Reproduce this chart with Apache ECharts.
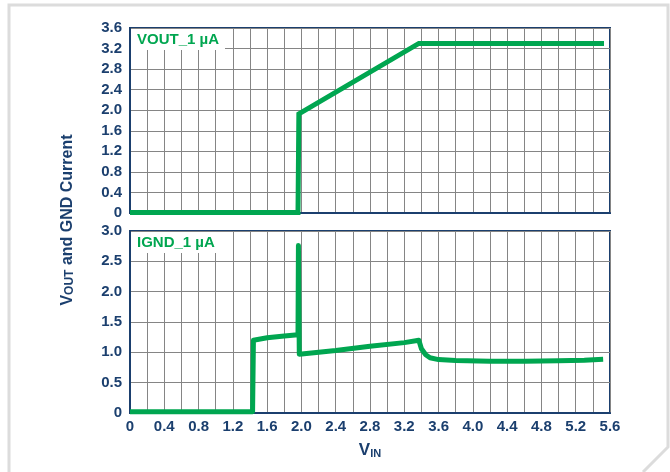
<!DOCTYPE html>
<html>
<head>
<meta charset="utf-8">
<script src="https://cdn.jsdelivr.net/npm/echarts@6/dist/echarts.min.js"></script>
<style>
  html, body { margin: 0; padding: 0; background: #fff; }
  #chart { width: 670px; height: 472px; }
</style>
</head>
<body>
<div id="chart"></div>
<script>
// VOUT (V) vs VIN
const voutVin = [0, 1.96, 1.97, 3.37, 5.53]
const voutVal = [0.01, 0.01, 1.93, 3.3, 3.3]

// IGND (µA) vs VIN
const ignVin = [0, 1.43, 1.44, 1.6, 1.8, 1.96, 1.965, 1.975, 2.4, 2.8, 3.2, 3.37, 3.4, 3.45, 3.5, 3.6, 3.8, 4.2, 4.6, 5.0, 5.3, 5.52]
const ignVal = [0.02, 0.02, 1.2, 1.24, 1.27, 1.29, 2.76, 0.97, 1.03, 1.1, 1.16, 1.2, 1.06, 0.96, 0.91, 0.88, 0.865, 0.855, 0.855, 0.86, 0.87, 0.885]

const xTicks = { min: 0, max: 5.6, interval: 0.4 }
const topTicks = { min: 0, max: 3.6, interval: 0.4 }
const botTicks = { min: 0, max: 3.0, interval: 0.5 }

const navy = '#1b3f6e'
const green = '#00a650'
const gridGrey = '#858585'
const font = 'Liberation Sans, Arial, sans-serif'

const fmt = (v) => (v === 0 ? '0' : v.toFixed(1))

const xAxisBase = (idx, showLabels) => ({
  type: 'value',
  gridIndex: idx,
  min: xTicks.min,
  max: xTicks.max,
  interval: xTicks.interval,
  axisLine: { show: true, onZero: false, lineStyle: { color: navy, width: 2 } },
  axisTick: { show: false },
  splitLine: { show: true, lineStyle: { color: gridGrey, width: 1 } },
  minorTick: { show: false, splitNumber: 2 },
  minorSplitLine: { show: true, lineStyle: { color: gridGrey, width: 1 } },
  axisLabel: {
    show: showLabels,
    formatter: fmt,
    color: navy,
    fontWeight: 'bold',
    fontSize: 15,
    fontFamily: font,
    margin: 6,
  },
})

const yAxisBase = (idx, t) => ({
  type: 'value',
  gridIndex: idx,
  min: t.min,
  max: t.max,
  interval: t.interval,
  axisLine: { show: true, lineStyle: { color: navy, width: 2 } },
  axisTick: { show: false },
  splitLine: { show: true, lineStyle: { color: gridGrey, width: 1 } },
  axisLabel: {
    formatter: fmt,
    color: navy,
    fontWeight: 'bold',
    fontSize: 15,
    fontFamily: font,
    margin: 8,
  },
})

const chart = echarts.init(document.getElementById('chart'))
chart.setOption({
  animation: false,
  backgroundColor: '#fff',
  title: [
    {
      text: 'VOUT_1 µA',
      left: 131,
      top: 29,
      backgroundColor: '#fff',
      padding: [3, 6, 3, 6],
      textStyle: { color: green, fontWeight: 'bold', fontSize: 15, fontFamily: font },
    },
    {
      text: 'IGND_1 µA',
      left: 131,
      top: 232,
      backgroundColor: '#fff',
      padding: [3, 6, 3, 6],
      textStyle: { color: green, fontWeight: 'bold', fontSize: 15, fontFamily: font },
    },
  ],
  grid: [
    { left: 130, right: 60, top: 28, height: 185, show: true, borderColor: navy, borderWidth: 2, backgroundColor: 'transparent' },
    { left: 130, right: 60, top: 231, height: 182, show: true, borderColor: navy, borderWidth: 2, backgroundColor: 'transparent' },
  ],
  xAxis: [
    xAxisBase(0, false),
    Object.assign(xAxisBase(1, true), {
      name: '{v|V}{s|IN}',
      nameLocation: 'middle',
      nameGap: 24,
      nameTextStyle: {
        rich: {
          v: { color: navy, fontWeight: 'bold', fontSize: 17, fontFamily: font, lineHeight: 22, verticalAlign: 'bottom' },
          s: { color: navy, fontWeight: 'bold', fontSize: 11, fontFamily: font, lineHeight: 22, verticalAlign: 'bottom', padding: [7, 0, 0, 0] },
        },
      },
    }),
  ],
  yAxis: [yAxisBase(0, topTicks), yAxisBase(1, botTicks)],
  graphic: [
    {
      type: 'polyline',
      silent: true,
      shape: { points: [[9, 472], [9, 5], [668, 5], [668, 447], [643, 472]] },
      style: { stroke: '#dcdcdc', lineWidth: 3, fill: null },
    },
    {
      type: 'text',
      x: 65,
      y: 220,
      rotation: Math.PI / 2,
      style: {
        text: '{v|V}{s|OUT}{v| and GND Current}',
        align: 'center',
        verticalAlign: 'middle',
        rich: {
          v: { fill: navy, fontWeight: 'bold', fontSize: 16, fontFamily: font, lineHeight: 22, verticalAlign: 'bottom' },
          s: { fill: navy, fontWeight: 'bold', fontSize: 12, fontFamily: font, lineHeight: 22, verticalAlign: 'bottom', padding: [6, 0, 0, 0] },
        },
      },
    },
  ],
  series: [
    {
      type: 'line',
      xAxisIndex: 0,
      yAxisIndex: 0,
      showSymbol: false,
      data: voutVin.map((x, i) => [x, voutVal[i]]),
      lineStyle: { color: green, width: 5, join: 'miter' },
      z: 5,
    },
    {
      type: 'line',
      xAxisIndex: 1,
      yAxisIndex: 1,
      showSymbol: false,
      smooth: false,
      data: ignVin.map((x, i) => [x, ignVal[i]]),
      lineStyle: { color: green, width: 5, join: 'round' },
      z: 5,
    },
  ],
})
</script>
</body>
</html>
